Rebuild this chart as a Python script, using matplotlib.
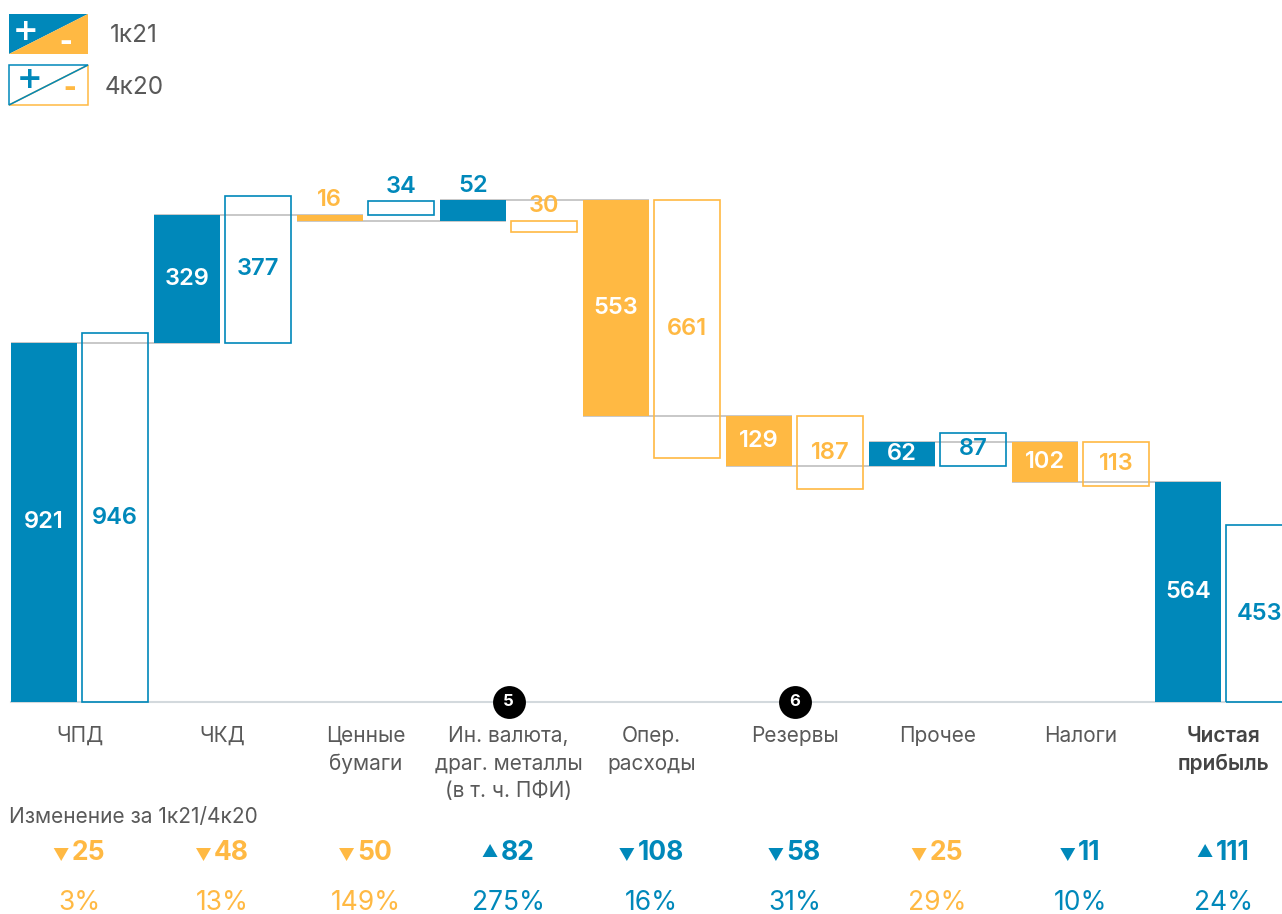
#!/usr/bin/env python3
"""Waterfall 1k21 vs 4k20 with change rows."""
import matplotlib
matplotlib.use("Agg")
import matplotlib.pyplot as plt
import matplotlib.transforms as mtransforms
from matplotlib.patches import Polygon

# --- data ---
categories = ["ЧПД", "ЧКД", "Ценные\nбумаги", "Ин. валюта,\nдраг. металлы\n(в т. ч. ПФИ)",
              "Опер.\nрасходы", "Резервы", "Прочее", "Налоги", "Чистая\nприбыль"]
q1_21 = [921, 329, -16, 52, -553, -129, 62, -102, 564]
q4_20 = [946, 377, 34, -30, -661, -187, 87, -113, 453]
change_abs = [25, 48, 50, 82, 108, 58, 25, 11, 111]
change_up = [False, False, False, True, False, False, False, False, True]
change_good = [False, False, False, True, True, True, False, True, True]
change_pct = [3, 13, 149, 275, 16, 31, 29, 10, 24]
notes = {3: "5", 5: "6"}

BLUE = "#0088BA"
ORANGE = "#FFB943"
GRAY_TXT = "#595959"
LINE = "#C4C4C4"
FONT = ["Inter", "DejaVu Sans"]
plt.rcParams["font.family"] = FONT

W, H = 1282, 914
fig = plt.figure(figsize=(W / 100, H / 100), dpi=100)
ax = fig.add_axes([0, (H - 702) / H, 1, (702 - 156) / H])
ax.set_xlim(-0.556, 8.409)
ax.set_ylim(0, 1400)
ax.axis("off")

# overlay in pixel coords (legend, small glyphs)
lax = fig.add_axes([0, 0, 1, 1])
lax.set_xlim(0, W)
lax.set_ylim(H, 0)
lax.axis("off")

off, w = 0.25, 0.46
n = len(categories)

# running totals for 1k21
bases1, bases4, ends = [], [], []
cum = 0
for i in range(n):
    if i == 0 or i == n - 1:
        bases1.append(0)
        bases4.append(0)
        cum = q1_21[i]
    else:
        bases1.append(cum)
        bases4.append(cum)
        cum += q1_21[i]
    ends.append(cum)

def col(v):
    return BLUE if v > 0 else ORANGE

# connectors
for i in range(n - 1):
    ax.plot([i - off - w / 2, i + 1 - off + w / 2], [ends[i], ends[i]],
            color=LINE, lw=1.3, zorder=1, solid_capstyle="butt")
ax.plot([-off - w / 2, 8.409], [0, 0], color="#D3D9DD", lw=1.5, zorder=1, clip_on=False)

for i in range(n):
    v1, v4 = q1_21[i], q4_20[i]
    ax.bar(i - off, v1, w, bottom=bases1[i], color=col(v1), zorder=2, lw=0)
    ax.bar(i + off, v4, w, bottom=bases4[i], fill=False, edgecolor=col(v4),
           lw=1.2, zorder=3, clip_on=False)
    for x, v, b, filled in [(i - off, v1, bases1[i], True), (i + off, v4, bases4[i], False)]:
        if abs(v) < 60:
            ax.text(x, max(b, b + v) + 9, f"{abs(v)}", ha="center", va="bottom",
                    fontsize=17, fontweight="semibold", color=col(v), zorder=4)
        else:
            ax.text(x, b + v / 2, f"{abs(v)}", ha="center", va="center",
                    fontsize=17, fontweight="semibold",
                    color="white" if filled else col(v), zorder=4)

# note markers
for i, t in notes.items():
    ax.scatter([i], [0], s=560, color="black", zorder=6, clip_on=False, lw=0)
    ax.text(i, 0, t, ha="center", va="center", color="white", fontsize=12,
            fontweight="bold", zorder=7)

# category labels and change rows
tr = mtransforms.blended_transform_factory(ax.transData, fig.transFigure)
fy = lambda px: 1 - px / H
renderer = fig.canvas.get_renderer()
ppu = ax.transData.transform((1, 0))[0] - ax.transData.transform((0, 0))[0]
tri_w, tri_h, gap = 15, 13, 3
for i, c in enumerate(categories):
    last = i == n - 1
    ax.text(i, fy(726), c, transform=tr, ha="center", va="top", fontsize=15,
            color="#444444" if last else GRAY_TXT, linespacing=1.47,
            fontweight="semibold" if last else "normal")
    cc = BLUE if change_good[i] else ORANGE
    num = ax.text(i, fy(853), f"{change_abs[i]}", transform=tr, ha="left", va="center",
                  fontsize=19, fontweight="bold", color=cc)
    wnum = num.get_window_extent(renderer).width
    left = -(tri_w + gap + wnum) / 2
    num.set_x(i + (left + tri_w + gap) / ppu)
    cx = ax.transData.transform((i, 0))[0] + left
    if change_up[i]:
        pts = [(cx, 857), (cx + tri_w, 857), (cx + tri_w / 2, 857 - tri_h)]
    else:
        pts = [(cx, 848), (cx + tri_w, 848), (cx + tri_w / 2, 848 + tri_h)]
    lax.add_patch(Polygon(pts, closed=True, color=cc, lw=0))
    ax.text(i, fy(903), f"{change_pct[i]}%", transform=tr, ha="center", va="center",
            fontsize=19, color=cc)

fig.text(9 / W, fy(817), "Изменение за 1к21/4к20", ha="left", va="center",
         fontsize=15, color=GRAY_TXT)

# legend
x0, x1 = 9, 88
y0, y1 = 14, 54
lax.add_patch(Polygon([(x0, y0), (x1, y0), (x0, y1)], closed=True, color=BLUE, lw=0))
lax.add_patch(Polygon([(x1, y0), (x1, y1), (x0, y1)], closed=True, color=ORANGE, lw=0))
lax.text(25.5, 31, "+", color="white", fontsize=22, fontweight="bold", ha="center",
         va="center", family="DejaVu Sans")
lax.text(66, 42, "-", color="white", fontsize=22, fontweight="bold", ha="center",
         va="center", family="DejaVu Sans")
y0, y1 = 65, 105
lax.add_patch(Polygon([(x1, y0), (x1, y1), (x0, y1)], closed=True, fill=False,
                      edgecolor=ORANGE, lw=1.1))
lax.add_patch(Polygon([(x0, y0), (x1, y0), (x0, y1)], closed=True, fill=False,
                      edgecolor=BLUE, lw=1.1))
lax.text(30, 80, "+", color=BLUE, fontsize=22, fontweight="bold", ha="center",
         va="center", family="DejaVu Sans")
lax.text(69.5, 88, "-", color=ORANGE, fontsize=22, fontweight="bold", ha="center",
         va="center", family="DejaVu Sans")
lax.text(110, 35, "1к21", color=GRAY_TXT, fontsize=17.5, ha="left", va="center")
lax.text(105, 87, "4к20", color=GRAY_TXT, fontsize=17.5, ha="left", va="center")

fig.savefig("out.png", dpi=100)
plt.close(fig)
